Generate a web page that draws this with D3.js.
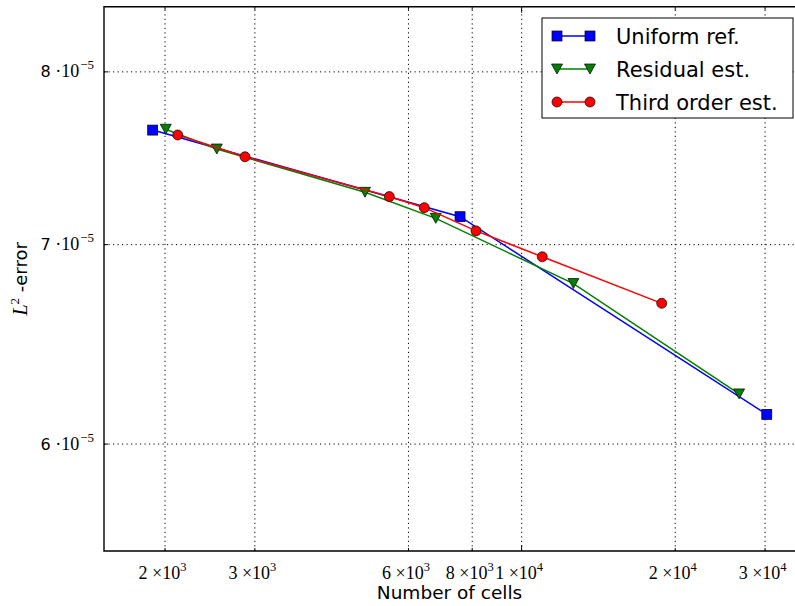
<!doctype html>
<html>
<head>
  <meta charset="utf-8">
  <title>L2-error vs number of cells</title>
  <script src="https://d3js.org/d3.v7.min.js"></script>
  <style>
    body { margin: 0; background: #fff; }
    svg { display: block; }
    .serif { font-family: 'Liberation Serif', 'DejaVu Serif', serif; }
    .sans { font-family: 'DejaVu Sans', sans-serif; }
    .grid line { stroke: #000; stroke-width: 1; stroke-dasharray: 1.2,3.3; }
    .grid path { display: none; }
    .ticks path { display: none; }
    .ticks line { stroke: #000; stroke-width: 1; }
  </style>
</head>
<body>
<svg id="chart" width="795" height="606"></svg>
<script>
  // data
  var uniformCells = [1896, 7590, 30300];
  var uniformErr = [7.645e-5, 7.150e-5, 6.137e-5];

  var residualCells = [2011, 2532, 4943, 6802, 12660, 26740];
  var residualErr = [7.650e-5, 7.534e-5, 7.286e-5, 7.141e-5, 6.790e-5, 6.235e-5];

  var thirdCells = [2123, 2876, 5516, 6460, 8158, 11000, 18860];
  var thirdErr = [7.616e-5, 7.489e-5, 7.262e-5, 7.200e-5, 7.072e-5, 6.932e-5, 6.687e-5];

  var xTicks = [2000, 3000, 6000, 8000, 10000, 20000, 30000];
  var xTickMant = ["2", "3", "6", "8", "1", "2", "3"];
  var xTickExp = ["3", "3", "3", "3", "4", "4", "4"];
  var xMajor = [10000];

  var yTicks = [6e-5, 7e-5, 8e-5];
  var yTickMant = ["6", "7", "8"];
  var yTickExp = "\u22125";

  var seriesNames = ["Uniform ref.", "Residual est.", "Third order est."];
  var seriesColors = ["#0000ff", "#008000", "#ff0000"];
  var seriesMarkers = ["square", "triangle", "circle"];

  var svg = d3.select("#chart");

  var pLeft = 104, pRight = 800, pTop = 6.7, pBottom = 551;

  var x = d3.scaleLog().domain([1522, 35200]).range([pLeft, pRight]);
  var y = d3.scaleLog().domain([5.522e-5, 8.41e-5]).range([pBottom, pTop]);

  svg.append("defs").append("clipPath").attr("id", "plotclip")
    .append("rect").attr("x", pLeft).attr("y", pTop)
    .attr("width", pRight - pLeft).attr("height", pBottom - pTop);

  // dotted grid
  svg.append("g").attr("class", "grid")
    .attr("transform", "translate(0," + pBottom + ")")
    .call(d3.axisBottom(x).tickValues(xTicks).tickFormat("").tickSize(-(pBottom - pTop)));
  svg.append("g").attr("class", "grid")
    .attr("transform", "translate(" + pLeft + ",0)")
    .call(d3.axisLeft(y).tickValues(yTicks).tickFormat("").tickSize(-(pRight - pLeft)));

  // inward tick marks
  var minorX = xTicks.filter(d => xMajor.indexOf(d) < 0);
  svg.append("g").attr("class", "ticks")
    .attr("transform", "translate(0," + pBottom + ")")
    .call(d3.axisBottom(x).tickValues(minorX).tickFormat("").tickSize(-3));
  svg.append("g").attr("class", "ticks")
    .attr("transform", "translate(0," + pBottom + ")")
    .call(d3.axisBottom(x).tickValues(xMajor).tickFormat("").tickSize(-6));
  svg.append("g").attr("class", "ticks")
    .attr("transform", "translate(0," + pTop + ")")
    .call(d3.axisTop(x).tickValues(minorX).tickFormat("").tickSize(-3));
  svg.append("g").attr("class", "ticks")
    .attr("transform", "translate(0," + pTop + ")")
    .call(d3.axisTop(x).tickValues(xMajor).tickFormat("").tickSize(-6));
  svg.append("g").attr("class", "ticks")
    .attr("transform", "translate(" + pLeft + ",0)")
    .call(d3.axisLeft(y).tickValues(yTicks).tickFormat("").tickSize(-4));

  // x tick labels
  var xl = svg.append("g").selectAll("text").data(xTicks).enter().append("text")
    .attr("class", "serif")
    .attr("x", d => x(d) - 2)
    .attr("y", pBottom + 28)
    .attr("text-anchor", "middle")
    .attr("font-size", "18px")
    .attr("fill", "#000");
  xl.append("tspan").text((d, i) => xTickMant[i] + " \u00d710");
  xl.append("tspan").attr("dy", -8).attr("font-size", "12.5px").text((d, i) => xTickExp[i]);

  // y tick labels
  var yl = svg.append("g").selectAll("text").data(yTicks).enter().append("text")
    .attr("x", pLeft - 10)
    .attr("y", d => y(d) + 6)
    .attr("text-anchor", "end")
    .attr("fill", "#000");
  yl.append("tspan").attr("class", "sans").attr("font-size", "16px").text((d, i) => yTickMant[i]);
  yl.append("tspan").attr("class", "serif").attr("font-size", "18px").text(" \u00b710");
  yl.append("tspan").attr("class", "serif").attr("dx", 1).attr("dy", -8).attr("font-size", "13px").text(yTickExp);

  // axis labels
  svg.append("text").attr("class", "sans")
    .attr("x", (pLeft + 795) / 2)
    .attr("y", 599)
    .attr("text-anchor", "middle")
    .attr("font-size", "18.5px")
    .text("Number of cells");

  var ylab = svg.append("text")
    .attr("transform", "translate(27," + (pTop + pBottom) / 2 + ") rotate(-90)")
    .attr("text-anchor", "middle")
    .attr("font-size", "18px");
  ylab.append("tspan").attr("class", "serif").attr("font-style", "italic").attr("font-size", "20px").text("L");
  ylab.append("tspan").attr("class", "serif").attr("dy", -8).attr("font-size", "13px").text("2");
  ylab.append("tspan").attr("class", "sans").attr("dy", 8).text(" -error");

  // markers
  function drawMarker(g, type, cx, cy, color) {
    if (type === "square") {
      g.append("rect").attr("x", cx - 5).attr("y", cy - 5).attr("width", 10).attr("height", 10)
        .attr("fill", color).attr("stroke", "#000").attr("stroke-width", 0.7);
    } else if (type === "triangle") {
      g.append("path").attr("d", "M" + (cx - 5.5) + "," + (cy - 5) + "L" + (cx + 5.5) + "," + (cy - 5) + "L" + cx + "," + (cy + 5) + "Z")
        .attr("fill", color).attr("stroke", "#000").attr("stroke-width", 0.7);
    } else {
      g.append("circle").attr("cx", cx).attr("cy", cy).attr("r", 5)
        .attr("fill", color).attr("stroke", "#000").attr("stroke-width", 0.7);
    }
  }

  var series = [
    {cells: uniformCells, err: uniformErr},
    {cells: residualCells, err: residualErr},
    {cells: thirdCells, err: thirdErr}
  ];

  var line = d3.line().x(d => x(d[0])).y(d => y(d[1]));
  var plot = svg.append("g").attr("clip-path", "url(#plotclip)");

  series.forEach(function(s, k) {
    var pts = s.cells.map((c, i) => [c, s.err[i]]);
    plot.append("path").datum(pts).attr("d", line)
      .attr("fill", "none").attr("stroke", seriesColors[k]).attr("stroke-width", 1.5);
    pts.forEach(p => drawMarker(plot, seriesMarkers[k], x(p[0]), y(p[1]), seriesColors[k]));
  });

  // spines (left, top, bottom)
  svg.append("path")
    .attr("d", "M" + pRight + "," + pTop + "H" + pLeft + "V" + pBottom + "H" + pRight)
    .attr("fill", "none").attr("stroke", "#000").attr("stroke-width", 1.4);

  // legend
  var lg = svg.append("g");
  lg.append("rect").attr("x", 542).attr("y", 18).attr("width", 251).attr("height", 100)
    .attr("fill", "#fff").attr("stroke", "#000").attr("stroke-width", 1);
  seriesNames.forEach(function(name, k) {
    var ry = 36 + k * 33;
    lg.append("line").attr("x1", 557).attr("x2", 590).attr("y1", ry).attr("y2", ry)
      .attr("stroke", seriesColors[k]).attr("stroke-width", 1.5);
    drawMarker(lg, seriesMarkers[k], 557, ry, seriesColors[k]);
    drawMarker(lg, seriesMarkers[k], 590, ry, seriesColors[k]);
    lg.append("text").attr("class", "sans").attr("x", 616).attr("y", ry + 7.5)
      .attr("font-size", "21px").text(name);
  });
</script>
</body>
</html>
